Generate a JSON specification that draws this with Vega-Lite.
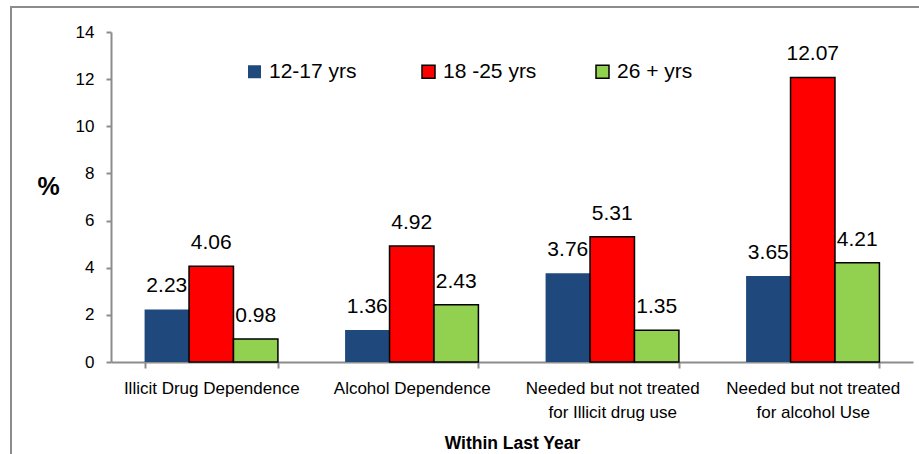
{
  "$schema": "https://vega.github.io/schema/vega-lite/v6.json",
  "autosize": "none",
  "width": 920,
  "height": 460,
  "padding": {"left": 11, "top": 7, "right": 0, "bottom": 0},
  "config": {
    "font": "Liberation Sans",
    "view": {"stroke": "#8c8c8c", "strokeWidth": 2}
  },
  "data": {
    "values": [
      {"category": "Illicit Drug Dependence", "group": "12-17 yrs", "value": 2.23},
      {"category": "Illicit Drug Dependence", "group": "18 -25 yrs", "value": 4.06},
      {"category": "Illicit Drug Dependence", "group": "26 + yrs", "value": 0.98},
      {"category": "Alcohol Dependence", "group": "12-17 yrs", "value": 1.36},
      {"category": "Alcohol Dependence", "group": "18 -25 yrs", "value": 4.92},
      {"category": "Alcohol Dependence", "group": "26 + yrs", "value": 2.43},
      {"category": "Needed but not treated\nfor Illicit drug use", "group": "12-17 yrs", "value": 3.76},
      {"category": "Needed but not treated\nfor Illicit drug use", "group": "18 -25 yrs", "value": 5.31},
      {"category": "Needed but not treated\nfor Illicit drug use", "group": "26 + yrs", "value": 1.35},
      {"category": "Needed but not treated\nfor alcohol Use", "group": "12-17 yrs", "value": 3.65},
      {"category": "Needed but not treated\nfor alcohol Use", "group": "18 -25 yrs", "value": 12.07},
      {"category": "Needed but not treated\nfor alcohol Use", "group": "26 + yrs", "value": 4.21}
    ]
  },
  "encoding": {
    "x": {
      "field": "category",
      "type": "nominal",
      "sort": null,
      "scale": {"range": [100, 902], "paddingInner": 0.335, "paddingOuter": 0.1675},
      "axis": {
        "orient": "bottom",
        "offset": -105,
        "tickBand": "extent",
        "labelAngle": 0,
        "labelFontSize": 17,
        "labelColor": "#000000",
        "labelExpr": "split(datum.label, '\\n')",
        "labelLineHeight": 24,
        "labelPadding": 12,
        "labelBaseline": "top",
        "labelLimit": 0,
        "domainColor": "#8c8c8c",
        "domainWidth": 2,
        "tickColor": "#8c8c8c",
        "tickWidth": 2,
        "tickSize": 6,
        "title": "Within Last Year",
        "titleFontSize": 17.5,
        "titleFontWeight": "bold",
        "titleColor": "#000000",
        "titlePadding": 14
      }
    },
    "xOffset": {
      "field": "group",
      "type": "nominal",
      "sort": ["12-17 yrs", "18 -25 yrs", "26 + yrs"],
      "scale": {"paddingInner": 0, "paddingOuter": 0}
    },
    "y": {
      "field": "value",
      "type": "quantitative",
      "scale": {"domain": [0, 14], "range": [355, 25], "nice": false},
      "axis": {
        "orient": "left",
        "offset": -100,
        "values": [0, 2, 4, 6, 8, 10, 12, 14],
        "grid": false,
        "domainColor": "#8c8c8c",
        "domainWidth": 2,
        "tickColor": "#8c8c8c",
        "tickWidth": 2,
        "tickSize": 5,
        "labelFontSize": 17,
        "labelColor": "#000000",
        "labelPadding": 12,
        "title": "%",
        "titleAngle": 0,
        "titleFontSize": 25,
        "titleFontWeight": "bold",
        "titleColor": "#000000",
        "titleAlign": "center",
        "titleBaseline": "middle",
        "titleX": -63,
        "titleY": 179
      }
    }
  },
  "layer": [
    {
      "mark": {"type": "bar", "strokeWidth": 1.5},
      "encoding": {
        "fill": {
          "field": "group",
          "type": "nominal",
          "scale": {"domain": ["12-17 yrs", "18 -25 yrs", "26 + yrs"], "range": ["#1F497D", "#FF0000", "#92D050"]},
          "legend": {
            "orient": "none",
            "legendX": 233,
            "legendY": 54,
            "direction": "horizontal",
            "title": null,
            "padding": 0,
            "symbolType": "square",
            "symbolSize": 169,
            "symbolStrokeWidth": 1.5,
            "symbolOpacity": 1,
            "labelFontSize": 21,
            "labelColor": "#000000",
            "labelOffset": 4,
            "columnPadding": 55,
            "gridAlign": "all"
          }
        },
        "stroke": {
          "field": "group",
          "type": "nominal",
          "scale": {"domain": ["12-17 yrs", "18 -25 yrs", "26 + yrs"], "range": ["transparent", "#000000", "#000000"]},
          "legend": {
            "orient": "none",
            "legendX": 233,
            "legendY": 54,
            "direction": "horizontal",
            "title": null,
            "padding": 0,
            "symbolType": "square",
            "symbolSize": 169,
            "symbolStrokeWidth": 1.5,
            "symbolOpacity": 1,
            "labelFontSize": 21,
            "labelColor": "#000000",
            "labelOffset": 4,
            "columnPadding": 55,
            "gridAlign": "all"
          }
        }
      }
    },
    {
      "mark": {"type": "text", "baseline": "alphabetic", "dy": -17, "fontSize": 21, "color": "#000000"},
      "encoding": {
        "text": {"field": "value", "type": "quantitative", "format": ".2f"}
      }
    }
  ]
}
